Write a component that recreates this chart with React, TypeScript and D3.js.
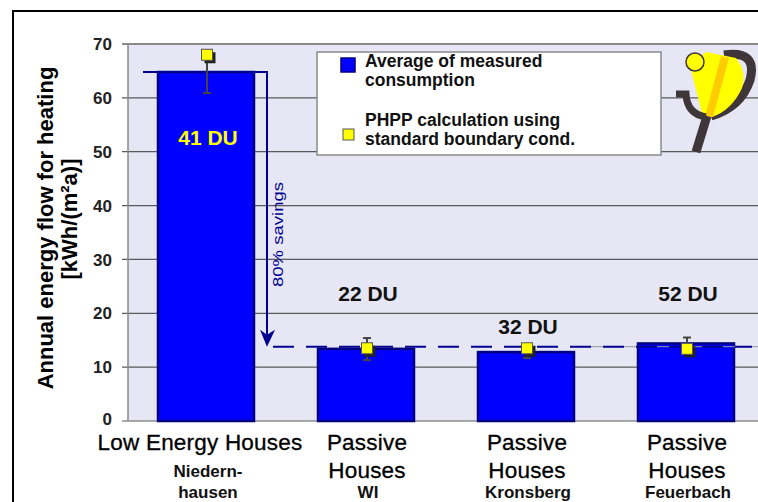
import { useEffect, useRef } from "react";
import * as d3 from "d3";

// chart data
const categories = [
  "Low Energy Houses",
  "Passive Houses WI",
  "Passive Houses Kronsberg",
  "Passive Houses Feuerbach",
];
const mainLabels = [["Low Energy Houses"], ["Passive", "Houses"], ["Passive", "Houses"], ["Passive", "Houses"]];
const subLabels = [["Niedern-", "hausen"], ["WI"], ["Kronsberg"], ["Feuerbach"]];
const measured = [64.8, 13.4, 12.8, 14.4];
const phpp = [68.0, 13.5, 13.5, 13.4];
const errLow = [60.9, 11.3, 11.7, 12.5];
const errHigh = [68.0, 15.4, 14.0, 15.5];
const dwellings = ["41 DU", "22 DU", "32 DU", "52 DU"];
const passiveLevel = 13.8;
const yTicks = [0, 10, 20, 30, 40, 50, 60, 70];
const legendItems = [
  ["Average of measured", "consumption"],
  ["PHPP calculation using", "standard boundary cond."],
];

const FONT = "Arial, 'Liberation Sans', sans-serif";

function EnergyChart() {
  const svgRef = useRef<SVGSVGElement>(null);

  useEffect(() => {
    const svg = d3.select(svgRef.current);
    svg.selectAll("*").remove();

    const left = 128;
    const top = 44;
    const bottom = 421;

    const x = d3
      .scaleBand<string>()
      .domain(categories)
      .range([126, 766])
      .paddingInner(0.4)
      .paddingOuter(0.2);
    const y = d3.scaleLinear().domain([0, 70]).range([bottom, top]);

    svg.append("rect").attr("width", 758).attr("height", 502).attr("fill", "#fff");

    // plot background
    svg
      .append("rect")
      .attr("x", left)
      .attr("y", top)
      .attr("width", 758 - left)
      .attr("height", bottom - top)
      .attr("fill", "#E6E6F5");

    // grid + ticks
    const g = svg.append("g");
    yTicks.forEach((t) => {
      g.append("line")
        .attr("x1", left - 6)
        .attr("x2", 758)
        .attr("y1", y(t))
        .attr("y2", y(t))
        .attr("stroke", t === 70 ? "#8a8a8a" : "#5a5a5a")
        .attr("stroke-width", t === 70 ? 2 : 1.2);
      g.append("text")
        .attr("x", 112)
        .attr("y", y(t))
        .attr("dy", t === 0 ? "0.25em" : "0.36em")
        .attr("text-anchor", "end")
        .attr("font-family", FONT)
        .attr("font-weight", "bold")
        .attr("font-size", 17)
        .attr("fill", "#222")
        .text(t);
    });
    g.append("line")
      .attr("x1", left)
      .attr("x2", left)
      .attr("y1", top)
      .attr("y2", bottom)
      .attr("stroke", "#8a8a8a")
      .attr("stroke-width", 1.5);

    // legend box
    svg
      .append("rect")
      .attr("x", 317)
      .attr("y", 52)
      .attr("width", 344)
      .attr("height", 103)
      .attr("fill", "#fff")
      .attr("stroke", "#8a8a8a")
      .attr("stroke-width", 1.5);
    svg
      .append("rect")
      .attr("x", 341)
      .attr("y", 58)
      .attr("width", 14)
      .attr("height", 14)
      .attr("fill", "#0000FF")
      .attr("stroke", "#000080")
      .attr("stroke-width", 1.5);
    svg
      .append("rect")
      .attr("x", 343)
      .attr("y", 129)
      .attr("width", 11)
      .attr("height", 11)
      .attr("fill", "#FFFF00")
      .attr("stroke", "#555")
      .attr("stroke-width", 1);
    const legBase = [
      [67, 86],
      [126, 145],
    ];
    legendItems.forEach((lines, i) => {
      lines.forEach((ln, j) => {
        svg
          .append("text")
          .attr("x", 365)
          .attr("y", legBase[i][j])
          .attr("font-family", FONT)
          .attr("font-weight", "bold")
          .attr("font-size", 17.5)
          .attr("fill", "#111")
          .text(ln);
      });
    });

    // logo
    const logo = svg.append("g");
    logo
      .append("path")
      .attr("d", "M724,55 Q758,50 750,80 Q741,107 711,116")
      .attr("fill", "none")
      .attr("stroke", "#3f3639")
      .attr("stroke-width", 9);
    logo
      .append("path")
      .attr("d", "M690,66 L706,52 L736,58 Q747,72 742,88 Q732,110 712,117 L703,117 Z")
      .attr("fill", "#FFFF00");
    logo
      .append("path")
      .attr("d", "M721,56 L729,58 L713,117 L705,117 Z")
      .attr("fill", "#FFCC00");
    logo
      .append("path")
      .attr("d", "M676,94 H686 Q687,114 706,117")
      .attr("fill", "none")
      .attr("stroke", "#3f3639")
      .attr("stroke-width", 7);
    logo
      .append("path")
      .attr("d", "M707,116 L696,152")
      .attr("stroke", "#3f3639")
      .attr("stroke-width", 9);
    logo
      .append("circle")
      .attr("cx", 695)
      .attr("cy", 62)
      .attr("r", 9)
      .attr("fill", "#FFFF00")
      .attr("stroke", "#3f3639")
      .attr("stroke-width", 1.5);

    // bars
    svg
      .selectAll("rect.bar")
      .data(categories)
      .enter()
      .append("rect")
      .attr("class", "bar")
      .attr("x", (d) => x(d)!)
      .attr("y", (d, i) => y(measured[i]))
      .attr("width", x.bandwidth())
      .attr("height", (d, i) => bottom - y(measured[i]))
      .attr("fill", "#0000FF")
      .attr("stroke", "#000080")
      .attr("stroke-width", 2.5);

    // savings line / arrow
    const navy = "#000090";
    svg
      .append("path")
      .attr("d", `M143,${y(measured[0])} H267 V${y(passiveLevel) - 12}`)
      .attr("fill", "none")
      .attr("stroke", navy)
      .attr("stroke-width", 2);
    svg
      .append("path")
      .attr(
        "d",
        `M267,${y(passiveLevel)} L260,${y(passiveLevel) - 17} L267,${y(passiveLevel) - 12} L275,${y(passiveLevel) - 17} Z`
      )
      .attr("fill", navy);
    svg
      .append("text")
      .attr("transform", `translate(283,287) rotate(-90)`)
      .attr("font-family", FONT)
      .attr("font-size", 15)
      .attr("fill", navy)
      .attr("textLength", 105)
      .attr("lengthAdjust", "spacingAndGlyphs")
      .text("80% savings");

    svg
      .append("line")
      .attr("x1", 572)
      .attr("x2", 758)
      .attr("y1", y(passiveLevel))
      .attr("y2", y(passiveLevel))
      .attr("stroke", "#999")
      .attr("stroke-width", 1);
    svg
      .append("line")
      .attr("x1", 273)
      .attr("x2", 752)
      .attr("y1", y(passiveLevel))
      .attr("y2", y(passiveLevel))
      .attr("stroke", navy)
      .attr("stroke-width", 2)
      .attr("stroke-dasharray", "21,12");

    // error bars + PHPP squares
    categories.forEach((c, i) => {
      const cx = x(c)! + x.bandwidth() / 2 + 1;
      const eg = svg.append("g");
      eg.append("line")
        .attr("x1", cx)
        .attr("x2", cx)
        .attr("y1", y(errLow[i]))
        .attr("y2", y(errHigh[i]))
        .attr("stroke", "#444")
        .attr("stroke-width", 2);
      [errLow[i], errHigh[i]].forEach((v) => {
        eg.append("line")
          .attr("x1", cx - 4)
          .attr("x2", cx + 4)
          .attr("y1", y(v))
          .attr("y2", y(v))
          .attr("stroke", "#444")
          .attr("stroke-width", 2);
      });
      const sy = y(phpp[i]);
      eg.append("rect")
        .attr("x", cx - 5.5 + 3)
        .attr("y", sy - 5.5 + 3)
        .attr("width", 11)
        .attr("height", 11)
        .attr("fill", "#222");
      eg.append("rect")
        .attr("x", cx - 5.5)
        .attr("y", sy - 5.5)
        .attr("width", 11)
        .attr("height", 11)
        .attr("fill", "#FFFF00")
        .attr("stroke", "#555")
        .attr("stroke-width", 1);
    });

    // dwelling unit labels (value positions)
    const duAt = [51.2, 22.3, 16.2, 22.3];
    dwellings.forEach((t, i) => {
      svg
        .append("text")
        .attr("x", x(categories[i])! + x.bandwidth() / 2 + 2)
        .attr("y", y(duAt[i]))
        .attr("text-anchor", "middle")
        .attr("font-family", FONT)
        .attr("font-weight", "bold")
        .attr("font-size", 21)
        .attr("fill", i === 0 ? "#FFFF00" : "#111")
        .text(t);
    });

    // category labels
    categories.forEach((c, i) => {
      const cx = x(c)! + x.bandwidth() / 2;
      mainLabels[i].forEach((ln, j) => {
        svg
          .append("text")
          .attr("x", cx + (i === 0 ? -6 : 1))
          .attr("y", 450 + j * 28)
          .attr("text-anchor", "middle")
          .attr("font-family", FONT)
          .attr("font-size", 22.5)
          .attr("letter-spacing", 0.2)
          .attr("fill", "#000")
          .attr("stroke", "#000")
          .attr("stroke-width", 0.3)
          .text(ln);
      });
      const subStart = subLabels[i].length === 2 ? 477 : 498;
      subLabels[i].forEach((ln, j) => {
        svg
          .append("text")
          .attr("x", cx + 2)
          .attr("y", subStart + j * 21)
          .attr("text-anchor", "middle")
          .attr("font-family", FONT)
          .attr("font-weight", "bold")
          .attr("font-size", 17)
          .attr("fill", "#111")
          .text(ln);
      });
    });

    // y title
    svg
      .append("text")
      .attr("transform", "translate(53,228) rotate(-90)")
      .attr("text-anchor", "middle")
      .attr("font-family", FONT)
      .attr("font-weight", "bold")
      .attr("font-size", 22)
      .attr("fill", "#000")
      .text("Annual energy flow for heating");
    svg
      .append("text")
      .attr("transform", "translate(77,219) rotate(-90)")
      .attr("text-anchor", "middle")
      .attr("font-family", FONT)
      .attr("font-weight", "bold")
      .attr("font-size", 22)
      .attr("fill", "#000")
      .text("[kWh/(m²a)]");

    // outer frame
    svg
      .append("rect")
      .attr("x", 13)
      .attr("y", 11)
      .attr("width", 800)
      .attr("height", 600)
      .attr("fill", "none")
      .attr("stroke", "#000")
      .attr("stroke-width", 2);
  }, []);

  return <svg ref={svgRef} width={758} height={502} style={{ position: "absolute", left: 0, top: 0 }} />;
}

export default function App() {
  return <EnergyChart />;
}
